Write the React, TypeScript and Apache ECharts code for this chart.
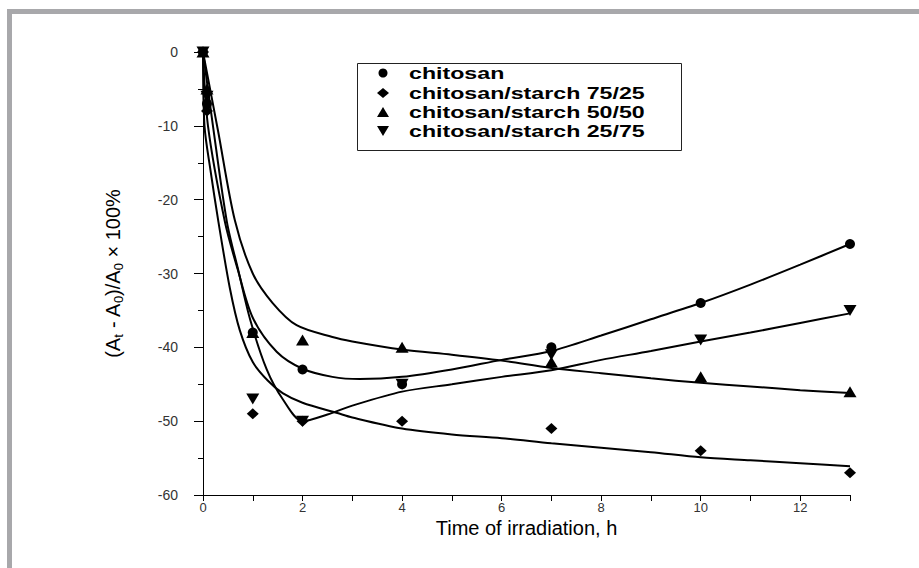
import React, { useEffect, useRef } from "react";
import * as echarts from "echarts";

// ---- Data ----
const seriesNames = [
  "chitosan",
  "chitosan/starch 75/25",
  "chitosan/starch 50/50",
  "chitosan/starch 25/75",
];

// measured points [hours, %]
const chitosanPts = [[0, 0], [0.08, -7], [1, -38], [2, -43], [4, -45], [7, -40], [10, -34], [13, -26]];
const cs7525Pts = [[0, 0], [0.08, -8], [1, -49], [2, -50], [4, -50], [7, -51], [10, -54], [13, -57]];
const cs5050Pts = [[0, 0], [0.08, -5], [1, -38], [2, -39], [4, -40], [7, -42], [10, -44], [13, -46]];
const cs2575Pts = [[0, 0], [0.08, -6], [1, -47], [2, -50], [4, -45], [7, -41], [10, -39], [13, -35]];

// fitted curves [hours, %]
const chitosanFit = [[0, 0], [0.1, -10], [0.44, -23], [0.7, -29.5], [1, -36], [1.48, -40.6], [2, -42.9], [2.6, -44], [3.15, -44.3], [4, -44], [5, -43], [6, -41.7], [7, -40.5], [8, -38.4], [9, -36.2], [10, -34], [11, -31.5], [12, -28.8], [13, -26]];
const cs7525Fit = [[0, 0], [0.03, -10], [0.15, -16], [0.31, -23], [0.54, -32], [0.74, -37.7], [1, -42], [1.3, -44.5], [1.6, -46.2], [2, -47.5], [2.7, -48.9], [3, -49.5], [4, -51], [5, -51.8], [6, -52.3], [7, -53], [8, -53.6], [9, -54.2], [10, -54.9], [11, -55.3], [12, -55.7], [13, -56.1]];
const cs5050Fit = [[0, 0], [0.3, -10.6], [0.64, -22.8], [1, -30], [1.4, -34], [1.88, -37], [2.6, -38.6], [3, -39.2], [4, -40.3], [5, -41], [6, -41.8], [7, -42.8], [8, -43.5], [9, -44.2], [10, -44.8], [11, -45.3], [12, -45.8], [13, -46.2]];
const cs2575Fit = [[0, 0], [0.2, -10], [0.48, -23], [0.71, -29.6], [0.95, -36.3], [1.28, -43], [1.6, -47], [2, -50], [2.5, -49.1], [3, -47.9], [4, -46], [5, -45], [6, -44], [7, -43.1], [8, -41.7], [9, -40.5], [10, -39.2], [11, -38], [12, -36.7], [13, -35.4]];

const xMin = 0;
const xMax = 13;
const yMin = -60;
const yMax = 0;

const xAxisTitle = "Time of irradiation, h";
const yAxisTitle = "(A{sub|t} - A{sub|0})/A{sub|0} × 100%";

const pointsList = [chitosanPts, cs7525Pts, cs5050Pts, cs2575Pts];
const fitList = [chitosanFit, cs7525Fit, cs5050Fit, cs2575Fit];
const symbols = ["circle", "diamond", "triangle", "triangle"];
const symbolSizes: any[] = [10, [12, 11], [13, 11], [13, 11]];
const symbolRotates = [0, 0, 0, 180];

const FONT = "Liberation Sans, Arial, sans-serif";

export default function App() {
  const ref = useRef<HTMLDivElement>(null);

  useEffect(() => {
    document.body.style.margin = "0";
    const chart = echarts.init(ref.current!, null, { renderer: "svg" });

    const series: any[] = [];
    fitList.forEach((fit, i) => {
      series.push({
        name: seriesNames[i] + " fit",
        type: "line",
        data: fit,
        showSymbol: false,
        symbol: "none",
        smooth: 0.3,
        lineStyle: { color: "#000", width: 2 },
        z: 2,
      });
    });
    pointsList.forEach((pts, i) => {
      series.push({
        name: seriesNames[i],
        type: "scatter",
        data: pts,
        symbol: symbols[i],
        symbolSize: symbolSizes[i],
        symbolRotate: symbolRotates[i],
        itemStyle: { color: "#000", opacity: 1 },
        z: 3,
      });
    });

    // legend (drawn as graphic to match the wide lettering)
    const legX = 357.5;
    const legY = 63.5;
    const rowY = [73, 93, 112, 131];
    const symX = 383;
    const textX = 409;
    const legendEls: any[] = [
      {
        type: "rect",
        shape: { x: legX, y: legY, width: 324, height: 87 },
        style: { fill: "#fff", stroke: "#222", lineWidth: 1 },
        z: 10,
      },
      { type: "circle", shape: { cx: symX, cy: rowY[0], r: 4.5 }, style: { fill: "#000" }, z: 11 },
      {
        type: "polygon",
        shape: { points: [[symX, rowY[1] - 5], [symX + 6, rowY[1]], [symX, rowY[1] + 5], [symX - 6, rowY[1]]] },
        style: { fill: "#000" },
        z: 11,
      },
      {
        type: "polygon",
        shape: { points: [[symX, rowY[2] - 5], [symX + 6, rowY[2] + 5], [symX - 6, rowY[2] + 5]] },
        style: { fill: "#000" },
        z: 11,
      },
      {
        type: "polygon",
        shape: { points: [[symX - 6, rowY[3] - 5], [symX + 6, rowY[3] - 5], [symX, rowY[3] + 5]] },
        style: { fill: "#000" },
        z: 11,
      },
    ];
    seriesNames.forEach((n, i) => {
      legendEls.push({
        type: "text",
        x: textX,
        y: rowY[i],
        scaleX: 1.45,
        style: {
          text: n,
          fill: "#000",
          fontFamily: FONT,
          fontWeight: "bold",
          fontSize: 16,
          verticalAlign: "middle",
          align: "left",
        },
        z: 11,
      });
    });

    const option: any = {
      animation: false,
      backgroundColor: "#fff",
      grid: { left: 203, right: 69, top: 52, bottom: 73, containLabel: false },
      xAxis: {
        type: "value",
        min: xMin,
        max: xMax,
        interval: 1,
        name: xAxisTitle,
        nameLocation: "middle",
        nameGap: 23,
        nameMoveOverlap: false,
        nameTextStyle: { color: "#000", fontSize: 20, fontFamily: FONT },
        axisLine: { show: true, onZero: false, lineStyle: { color: "#000", width: 1 } },
        axisTick: { show: true, length: 6, lineStyle: { color: "#000" } },
        splitLine: { show: false },
        axisLabel: {
          margin: 6,
          color: "#333",
          fontSize: 13,
          fontFamily: FONT,
          formatter: (v: number) => (v % 2 === 0 ? String(v) : ""),
        },
      },
      yAxis: {
        type: "value",
        min: yMin,
        max: yMax,
        interval: 10,
        name: yAxisTitle,
        nameLocation: "middle",
        nameRotate: 90,
        nameGap: 78,
        nameMoveOverlap: false,
        nameTextStyle: {
          color: "#000",
          fontSize: 20,
          fontFamily: FONT,
          rich: {
            sub: { fontSize: 13, verticalAlign: "bottom", lineHeight: 25, fontFamily: FONT },
          },
        },
        axisLine: { show: true, onZero: false, lineStyle: { color: "#000", width: 1 } },
        axisTick: { show: true, length: 9, lineStyle: { color: "#000" } },
        minorTick: { show: true, splitNumber: 2, length: 5, lineStyle: { color: "#000" } },
        splitLine: { show: false },
        minorSplitLine: { show: false },
        axisLabel: { margin: 25, color: "#333", fontSize: 14, fontFamily: FONT },
      },
      series,
      graphic: [
        { type: "rect", shape: { x: 7, y: 9, width: 912, height: 5 }, style: { fill: "#a8a8ab" }, z: 20 },
        { type: "rect", shape: { x: 7, y: 9, width: 5, height: 559 }, style: { fill: "#a8a8ab" }, z: 20 },
        ...legendEls,
      ],
    };

    chart.setOption(option);
    return () => chart.dispose();
  }, []);

  return <div ref={ref} style={{ width: 919, height: 568 }} />;
}
